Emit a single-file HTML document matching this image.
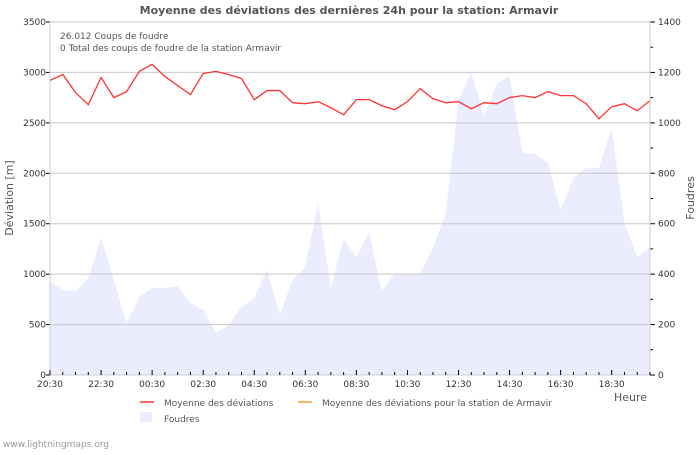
<!DOCTYPE html>
<html><head><meta charset="utf-8"><style>
body{margin:0;background:#fff;font-family:"Liberation Sans","DejaVu Sans",sans-serif;}
svg text{font-family:"DejaVu Sans","Liberation Sans",sans-serif;}
</style></head><body>
<svg id="c" width="700" height="450" viewBox="0 0 700 450" xmlns="http://www.w3.org/2000/svg">
<rect width="700" height="450" fill="#fff"/>
<text x="349" y="14" text-anchor="middle" font-size="11" font-weight="bold" fill="#555">Moyenne des déviations des dernières 24h pour la station: Armavir</text>
<g id="area"></g><g id="grid"></g><g id="line"></g><g id="axes"></g>
<text x="60" y="39" font-size="9" fill="#555">26.012  Coups de foudre</text>
<text x="60" y="51" font-size="9" fill="#555">0 Total des coups de foudre de la station Armavir</text>
<text transform="translate(13,198) rotate(-90)" text-anchor="middle" font-size="11" fill="#555">Déviation  [m]</text>
<text transform="translate(694,198) rotate(-90)" text-anchor="middle" font-size="11" fill="#555">Foudres</text>
<text x="647" y="401" text-anchor="end" font-size="11" fill="#555">Heure</text>
<g>
<line x1="140" y1="402" x2="154" y2="402" stroke="#f33" stroke-width="1.5"/>
<text x="164" y="406" font-size="9" fill="#555">Moyenne des déviations</text>
<line x1="298" y1="402" x2="312" y2="402" stroke="#f93" stroke-width="1.5"/>
<text x="322" y="406" font-size="9" fill="#555">Moyenne des déviations pour la station de Armavir</text>
<rect x="140" y="412" width="12" height="10" fill="#ececff"/>
<text x="164" y="422" font-size="9" fill="#555">Foudres</text>
</g>
<text x="3" y="447" font-size="9" fill="#999">www.lightningmaps.org</text>
</svg>
<script>
const deviation=[2920,2980,2800,2680,2950,2750,2810,3010,3080,2960,2870,2780,2990,3010,2980,2940,2730,2820,2820,2700,2690,2710,2650,2580,2730,2730,2670,2630,2710,2840,2740,2700,2710,2640,2700,2690,2750,2770,2750,2810,2770,2770,2690,2540,2660,2690,2620,2720];
const strikes=[369,337,333,385,544,377,206,310,345,345,353,286,258,167,198,270,305,417,238,377,428,686,345,540,468,567,329,405,401,405,504,643,1091,1202,1024,1155,1187,881,877,841,655,782,821,821,980,603,468,508];
const xLabels=["20:30","22:30","00:30","02:30","04:30","06:30","08:30","10:30","12:30","14:30","16:30","18:30"];
const yTicks=[0,500,1000,1500,2000,2500,3000,3500];
const y2Ticks=[0,200,400,600,800,1000,1200,1400];
const NS="http://www.w3.org/2000/svg";
const L=50,R=650,T=22,B=375,step=(R-L)/47;
const X=i=>L+i*step, Y=v=>B-(v/3500)*(B-T), Y2=v=>B-(v/1400)*(B-T);
function mk(t,a,p){const e=document.createElementNS(NS,t);for(const k in a)e.setAttribute(k,a[k]);p.appendChild(e);return e;}
const g=document.getElementById('grid'),ax=document.getElementById('axes');
yTicks.forEach(v=>{
 if(v>0){const ln=mk('line',{x1:L,x2:R,y1:Y(v),y2:Y(v),stroke:'#c8c8c8','stroke-width':1},g);
 
 }
 mk('line',{x1:L-4,x2:L,y1:Y(v),y2:Y(v),stroke:'#000'},ax);
 const t=mk('text',{x:L-4,y:Y(v)+3,'text-anchor':'end','font-size':9,fill:'#333'},ax);t.textContent=v;
 
 
});
for(let v=0;v<=1400;v+=100){mk('line',{x1:R,x2:R+(v%200?3:5),y1:Y2(v),y2:Y2(v),stroke:'#000'},ax);}
y2Ticks.forEach(v=>{const t=mk('text',{x:R+8,y:Y2(v)+3,'font-size':9,fill:'#333'},ax);t.textContent=v;
 
 });
mk('line',{x1:L,x2:L,y1:T,y2:B,stroke:'#ccc'},ax);
mk('line',{x1:R,x2:R,y1:T,y2:B,stroke:'#ccc'},ax);
mk('line',{x1:L,x2:R,y1:B,y2:B,stroke:'#ccc'},ax);
for(let i=0;i<48;i++){mk('line',{x1:X(i),x2:X(i),y1:B-(i%4?3:5),y2:B,stroke:'#000'},ax);}
xLabels.forEach((s,k)=>{const t=mk('text',{x:X(k*4),y:B+12,'text-anchor':'middle','font-size':9,fill:'#333'},ax);t.textContent=s;
 
 });
let d='M'+X(0)+','+B;strikes.forEach((v,i)=>d+=' L'+X(i)+','+Y2(v));d+=' L'+X(strikes.length-1)+','+B+' Z';
const a=mk('path',{d:d,fill:'#ececff'},document.getElementById('area'));


const pl=mk('polyline',{points:deviation.map((v,i)=>X(i)+','+Y(v)).join(' '),fill:'none',stroke:'#f33','stroke-width':1.3},document.getElementById('line'));


</script>
</body></html>
